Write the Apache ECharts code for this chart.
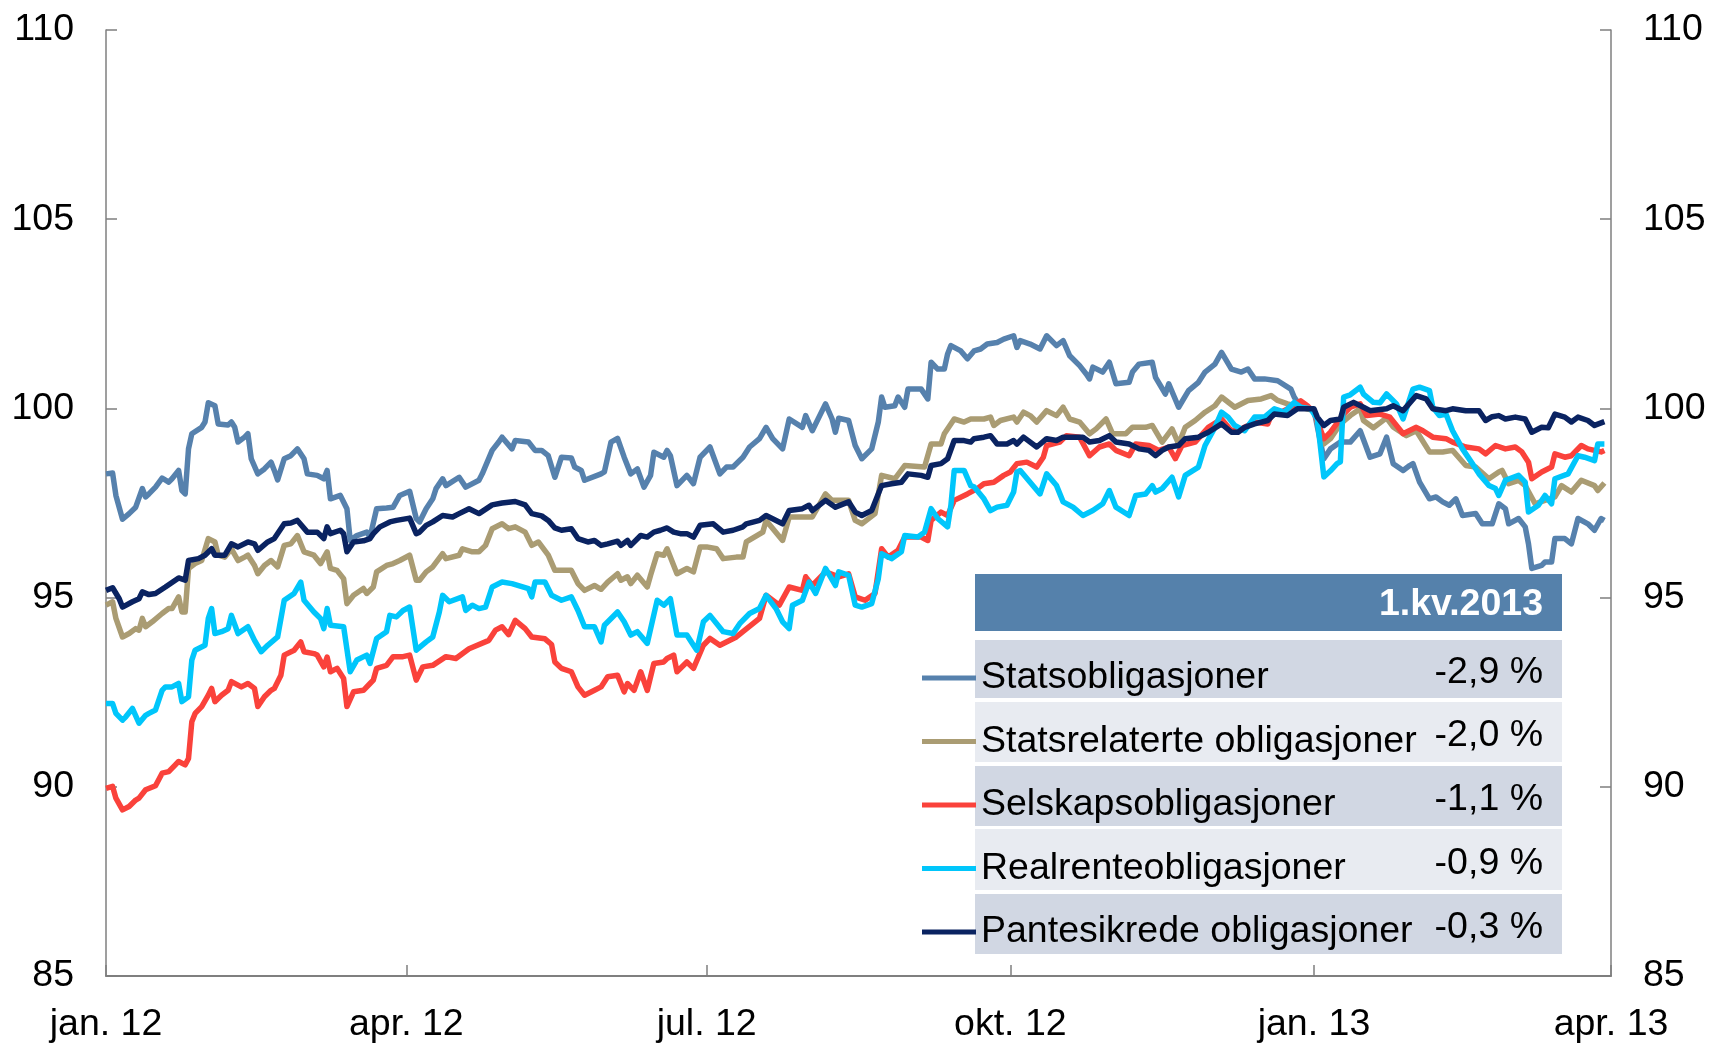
<!DOCTYPE html>
<html>
<head>
<meta charset="utf-8">
<script src="https://cdn.jsdelivr.net/npm/echarts@6/dist/echarts.min.js"></script>
<style>
  html, body { margin: 0; padding: 0; background: #fff; }
  #chart { width: 1710px; height: 1044px; }
</style>
</head>
<body>
<div id="chart"></div>
<script>
// index, 1.1.2012 .. 1.4.2013
var statsobligasjoner = [
  ['2012-01-01',98.27],['2012-01-03',98.29],['2012-01-04',97.70],['2012-01-06',97.07],['2012-01-08',97.22],['2012-01-10',97.39],
  ['2012-01-12',97.88],['2012-01-13',97.66],['2012-01-14',97.74],['2012-01-16',97.92],['2012-01-18',98.16],['2012-01-20',98.05],
  ['2012-01-21',98.14],['2012-01-23',98.36],['2012-01-24',97.83],['2012-01-25',97.74],['2012-01-26',98.93],['2012-01-27',99.33],
  ['2012-01-30',99.50],['2012-01-31',99.64],['2012-02-01',100.15],['2012-02-03',100.07],['2012-02-04',99.59],['2012-02-07',99.56],
  ['2012-02-08',99.64],['2012-02-09',99.50],['2012-02-10',99.11],['2012-02-12',99.24],['2012-02-13',99.33],['2012-02-14',98.67],
  ['2012-02-16',98.27],['2012-02-18',98.40],['2012-02-20',98.58],['2012-02-21',98.36],['2012-02-22',98.11],['2012-02-24',98.67],
  ['2012-02-26',98.75],['2012-02-28',98.93],['2012-03-01',98.67],['2012-03-02',98.27],['2012-03-05',98.23],['2012-03-07',98.14],
  ['2012-03-08',98.36],['2012-03-09',97.61],['2012-03-12',97.70],['2012-03-14',97.35],['2012-03-15',96.51],['2012-03-17',96.64],
  ['2012-03-20',96.73],['2012-03-21',96.60],['2012-03-23',97.35],['2012-03-26',97.37],['2012-03-28',97.39],['2012-03-30',97.70],
  ['2012-04-02',97.81],['2012-04-04',97.09],['2012-04-05',97.00],['2012-04-07',97.35],['2012-04-09',97.61],['2012-04-10',97.88],
  ['2012-04-12',98.14],['2012-04-13',97.96],['2012-04-17',98.18],['2012-04-19',97.92],['2012-04-23',98.10],['2012-04-24',98.27],
  ['2012-04-27',98.89],['2012-04-29',99.11],['2012-04-30',99.24],['2012-05-03',98.93],['2012-05-04',99.15],['2012-05-08',99.11],
  ['2012-05-10',98.89],['2012-05-12',98.89],['2012-05-14',98.75],['2012-05-16',98.18],['2012-05-18',98.71],['2012-05-21',98.69],
  ['2012-05-22',98.45],['2012-05-24',98.36],['2012-05-25',98.10],['2012-05-30',98.27],['2012-05-31',98.32],['2012-06-02',99.11],
  ['2012-06-04',99.21],['2012-06-06',98.71],['2012-06-08',98.27],['2012-06-10',98.40],['2012-06-12',97.92],['2012-06-14',98.23],
  ['2012-06-15',98.84],['2012-06-18',98.71],['2012-06-19',98.89],['2012-06-20',98.75],['2012-06-22',97.96],['2012-06-25',98.23],
  ['2012-06-27',98.01],['2012-06-29',98.71],['2012-07-02',98.98],['2012-07-05',98.27],['2012-07-07',98.45],['2012-07-09',98.45],
  ['2012-07-12',98.71],['2012-07-14',98.98],['2012-07-17',99.20],['2012-07-19',99.50],['2012-07-21',99.20],['2012-07-24',98.93],
  ['2012-07-26',99.72],['2012-07-30',99.50],['2012-07-31',99.81],['2012-08-02',99.41],['2012-08-06',100.12],['2012-08-08',99.72],
  ['2012-08-09',99.37],['2012-08-10',99.74],['2012-08-13',99.68],['2012-08-15',99.02],['2012-08-17',98.67],['2012-08-20',98.93],
  ['2012-08-22',99.64],['2012-08-23',100.30],['2012-08-24',100.03],['2012-08-27',100.07],['2012-08-28',100.30],['2012-08-30',100.03],
  ['2012-08-31',100.51],['2012-09-04',100.51],['2012-09-06',100.25],['2012-09-07',101.22],['2012-09-09',101.04],['2012-09-11',101.04],
  ['2012-09-12',101.44],['2012-09-13',101.66],['2012-09-16',101.52],['2012-09-18',101.31],['2012-09-20',101.52],['2012-09-22',101.57],
  ['2012-09-24',101.70],['2012-09-27',101.74],['2012-09-29',101.83],['2012-10-02',101.92],['2012-10-03',101.61],['2012-10-04',101.79],
  ['2012-10-07',101.70],['2012-10-10',101.57],['2012-10-12',101.92],['2012-10-15',101.66],['2012-10-17',101.79],['2012-10-19',101.39],
  ['2012-10-22',101.13],['2012-10-24',100.91],['2012-10-25',100.78],['2012-10-26',101.09],['2012-10-29',100.96],['2012-10-31',101.22],
  ['2012-11-02',100.65],['2012-11-06',100.69],['2012-11-07',100.96],['2012-11-09',101.17],['2012-11-13',101.22],['2012-11-14',100.82],
  ['2012-11-17',100.38],['2012-11-18',100.65],['2012-11-21',100.03],['2012-11-24',100.47],['2012-11-27',100.69],['2012-11-29',100.96],
  ['2012-12-02',101.17],['2012-12-04',101.48],['2012-12-07',101.04],['2012-12-10',100.96],['2012-12-12',101.04],['2012-12-14',100.78],
  ['2012-12-17',100.78],['2012-12-21',100.73],['2012-12-25',100.51],['2012-12-26',100.30],['2012-12-28',100.03],['2013-01-01',99.96],
  ['2013-01-04',98.67],['2013-01-06',98.93],['2013-01-09',99.11],['2013-01-12',99.11],['2013-01-15',99.41],['2013-01-18',98.71],
  ['2013-01-21',98.80],['2013-01-23',99.24],['2013-01-25',98.54],['2013-01-28',98.36],['2013-01-30',98.49],['2013-01-31',98.54],
  ['2013-02-02',98.05],['2013-02-05',97.61],['2013-02-07',97.66],['2013-02-09',97.53],['2013-02-11',97.44],['2013-02-13',97.61],
  ['2013-02-15',97.17],['2013-02-19',97.22],['2013-02-21',96.95],['2013-02-24',96.95],['2013-02-26',97.48],['2013-02-28',97.35],
  ['2013-03-01',96.95],['2013-03-04',97.09],['2013-03-06',96.87],['2013-03-07',96.42],['2013-03-08',95.77],['2013-03-11',95.85],
  ['2013-03-12',95.94],['2013-03-14',95.94],['2013-03-15',96.56],['2013-03-18',96.56],['2013-03-20',96.42],['2013-03-22',97.09],
  ['2013-03-25',96.95],['2013-03-27',96.78],['2013-03-29',97.09],['2013-03-30',97.04]
];

var statsrelaterte = [
  ['2012-01-01',94.80],['2012-01-03',94.89],['2012-01-04',94.45],['2012-01-06',93.96],['2012-01-08',94.05],['2012-01-10',94.18],
  ['2012-01-11',94.14],['2012-01-12',94.45],['2012-01-13',94.23],['2012-01-15',94.36],['2012-01-18',94.58],['2012-01-20',94.71],
  ['2012-01-21',94.71],['2012-01-23',95.02],['2012-01-24',94.62],['2012-01-25',94.62],['2012-01-26',95.77],['2012-01-28',95.90],
  ['2012-01-30',95.98],['2012-02-01',96.56],['2012-02-03',96.47],['2012-02-04',96.12],['2012-02-06',96.07],['2012-02-08',96.29],
  ['2012-02-10',95.98],['2012-02-12',96.07],['2012-02-13',96.12],['2012-02-15',95.85],['2012-02-16',95.63],['2012-02-18',95.85],
  ['2012-02-20',95.98],['2012-02-22',95.81],['2012-02-24',96.38],['2012-02-26',96.42],['2012-02-28',96.64],['2012-03-01',96.21],
  ['2012-03-04',96.12],['2012-03-06',95.90],['2012-03-08',96.21],['2012-03-09',95.77],['2012-03-11',95.72],['2012-03-13',95.50],
  ['2012-03-14',94.84],['2012-03-16',95.06],['2012-03-19',95.24],['2012-03-20',95.11],['2012-03-22',95.28],['2012-03-23',95.68],
  ['2012-03-26',95.85],['2012-03-28',95.90],['2012-03-30',95.98],['2012-04-02',96.12],['2012-04-04',95.46],['2012-04-05',95.46],
  ['2012-04-07',95.68],['2012-04-09',95.81],['2012-04-12',96.16],['2012-04-13',96.03],['2012-04-17',96.12],['2012-04-18',96.29],
  ['2012-04-21',96.21],['2012-04-23',96.21],['2012-04-25',96.38],['2012-04-27',96.82],['2012-04-30',96.95],['2012-05-02',96.82],
  ['2012-05-04',96.87],['2012-05-07',96.73],['2012-05-09',96.38],['2012-05-11',96.47],['2012-05-14',96.12],['2012-05-16',95.72],
  ['2012-05-18',95.72],['2012-05-21',95.72],['2012-05-23',95.37],['2012-05-25',95.19],['2012-05-28',95.32],['2012-05-30',95.22],
  ['2012-06-01',95.41],['2012-06-04',95.63],['2012-06-05',95.46],['2012-06-07',95.55],['2012-06-08',95.37],['2012-06-10',95.59],
  ['2012-06-13',95.28],['2012-06-14',95.59],['2012-06-16',96.16],['2012-06-18',96.12],['2012-06-19',96.29],['2012-06-22',95.63],
  ['2012-06-25',95.77],['2012-06-27',95.68],['2012-06-29',96.34],['2012-07-01',96.34],['2012-07-04',96.29],['2012-07-06',96.03],
  ['2012-07-10',96.07],['2012-07-12',96.07],['2012-07-13',96.47],['2012-07-18',96.73],['2012-07-19',97.04],['2012-07-24',96.51],
  ['2012-07-26',97.13],['2012-07-30',97.13],['2012-08-02',97.13],['2012-08-06',97.74],['2012-08-08',97.57],['2012-08-13',97.57],
  ['2012-08-15',97.04],['2012-08-17',96.95],['2012-08-21',97.22],['2012-08-23',98.23],['2012-08-27',98.14],['2012-08-30',98.49],
  ['2012-09-05',98.45],['2012-09-07',99.06],['2012-09-10',99.06],['2012-09-11',99.33],['2012-09-14',99.72],['2012-09-17',99.64],
  ['2012-09-19',99.72],['2012-09-23',99.72],['2012-09-25',99.77],['2012-09-26',99.55],['2012-09-28',99.68],['2012-10-02',99.77],
  ['2012-10-03',99.64],['2012-10-05',99.90],['2012-10-07',99.81],['2012-10-09',99.64],['2012-10-12',99.94],['2012-10-15',99.81],
  ['2012-10-17',100.03],['2012-10-19',99.72],['2012-10-22',99.64],['2012-10-25',99.33],['2012-10-27',99.46],['2012-10-30',99.72],
  ['2012-11-01',99.33],['2012-11-05',99.33],['2012-11-07',99.50],['2012-11-11',99.50],['2012-11-13',99.55],['2012-11-16',99.11],
  ['2012-11-19',99.46],['2012-11-21',99.06],['2012-11-23',99.50],['2012-11-26',99.68],['2012-11-29',99.90],['2012-12-02',100.07],
  ['2012-12-04',100.30],['2012-12-08',100.03],['2012-12-12',100.21],['2012-12-16',100.25],['2012-12-19',100.34],['2012-12-21',100.21],
  ['2012-12-24',100.12],['2012-12-28',100.03],['2013-01-01',99.94],['2013-01-04',99.06],['2013-01-06',99.20],['2013-01-09',99.59],
  ['2013-01-12',99.81],['2013-01-15',99.99],['2013-01-16',99.68],['2013-01-19',99.49],['2013-01-23',99.75],['2013-01-25',99.51],
  ['2013-01-29',99.28],['2013-02-01',99.41],['2013-02-05',98.85],['2013-02-09',98.85],['2013-02-12',98.89],['2013-02-16',98.49],
  ['2013-02-19',98.45],['2013-02-23',98.14],['2013-02-26',98.32],['2013-02-27',98.36],['2013-03-01',98.01],['2013-03-04',98.10],
  ['2013-03-06',97.96],['2013-03-09',97.48],['2013-03-12',97.57],['2013-03-15',97.66],['2013-03-17',97.96],['2013-03-20',97.79],
  ['2013-03-23',98.10],['2013-03-27',97.96],['2013-03-28',97.83],['2013-03-30',98.03]
];

var selskap = [
  ['2012-01-01',89.96],['2012-01-03',90.01],['2012-01-04',89.70],['2012-01-06',89.39],['2012-01-08',89.48],['2012-01-10',89.65],
  ['2012-01-11',89.70],['2012-01-13',89.92],['2012-01-16',90.03],['2012-01-18',90.36],['2012-01-20',90.40],['2012-01-22',90.58],
  ['2012-01-23',90.67],['2012-01-25',90.58],['2012-01-26',90.75],['2012-01-27',91.72],['2012-01-28',91.94],['2012-01-30',92.12],
  ['2012-02-01',92.42],['2012-02-02',92.60],['2012-02-03',92.25],['2012-02-05',92.42],['2012-02-07',92.55],['2012-02-08',92.78],
  ['2012-02-11',92.64],['2012-02-13',92.73],['2012-02-15',92.60],['2012-02-16',92.12],['2012-02-18',92.38],['2012-02-20',92.55],
  ['2012-02-21',92.60],['2012-02-23',92.95],['2012-02-24',93.48],['2012-02-27',93.61],['2012-02-29',93.83],['2012-03-01',93.57],
  ['2012-03-04',93.52],['2012-03-05',93.48],['2012-03-07',93.17],['2012-03-08',93.43],['2012-03-09',93.04],['2012-03-11',93.13],
  ['2012-03-13',92.86],['2012-03-14',92.12],['2012-03-16',92.51],['2012-03-19',92.55],['2012-03-21',92.73],['2012-03-22',92.82],
  ['2012-03-23',93.13],['2012-03-26',93.21],['2012-03-28',93.44],['2012-03-31',93.44],['2012-04-02',93.48],['2012-04-04',92.82],
  ['2012-04-06',93.17],['2012-04-09',93.21],['2012-04-13',93.44],['2012-04-16',93.39],['2012-04-20',93.65],['2012-04-26',93.87],
  ['2012-04-28',94.14],['2012-04-30',94.23],['2012-05-02',94.02],['2012-05-04',94.40],['2012-05-07',94.18],['2012-05-09',93.96],
  ['2012-05-13',93.91],['2012-05-15',93.76],['2012-05-16',93.30],['2012-05-18',93.13],['2012-05-21',93.04],['2012-05-23',92.64],
  ['2012-05-25',92.42],['2012-05-28',92.55],['2012-05-30',92.64],['2012-06-01',92.91],['2012-06-04',92.95],['2012-06-06',92.51],
  ['2012-06-07',92.73],['2012-06-09',92.55],['2012-06-11',93.04],['2012-06-13',92.55],['2012-06-15',93.26],['2012-06-18',93.30],
  ['2012-06-19',93.39],['2012-06-21',93.48],['2012-06-22',93.04],['2012-06-25',93.30],['2012-06-27',93.13],['2012-06-30',93.74],
  ['2012-07-02',93.92],['2012-07-05',93.74],['2012-07-10',93.96],['2012-07-17',94.45],['2012-07-19',95.06],['2012-07-23',94.80],
  ['2012-07-26',95.28],['2012-07-30',95.19],['2012-07-31',95.55],['2012-08-02',95.32],['2012-08-06',95.68],['2012-08-10',95.55],
  ['2012-08-13',95.63],['2012-08-15',95.02],['2012-08-18',94.93],['2012-08-21',95.11],['2012-08-23',96.29],['2012-08-25',96.07],
  ['2012-08-28',96.25],['2012-08-30',96.60],['2012-09-04',96.60],['2012-09-06',96.51],['2012-09-07',97.04],['2012-09-10',97.26],
  ['2012-09-12',97.17],['2012-09-14',97.57],['2012-09-18',97.74],['2012-09-21',97.88],['2012-09-23',98.01],['2012-09-26',98.05],
  ['2012-09-29',98.23],['2012-10-01',98.32],['2012-10-03',98.54],['2012-10-06',98.58],['2012-10-09',98.45],['2012-10-11',98.71],
  ['2012-10-12',99.02],['2012-10-16',99.11],['2012-10-18',99.28],['2012-10-22',99.24],['2012-10-25',98.75],['2012-10-28',98.98],
  ['2012-10-31',99.06],['2012-11-02',98.89],['2012-11-06',98.75],['2012-11-08',99.06],['2012-11-12',99.02],['2012-11-15',98.89],
  ['2012-11-18',98.98],['2012-11-20',98.67],['2012-11-22',99.02],['2012-11-26',99.11],['2012-11-30',99.50],['2012-12-04',99.72],
  ['2012-12-07',99.41],['2012-12-10',99.46],['2012-12-14',99.64],['2012-12-18',99.59],['2012-12-19',99.81],['2012-12-22',99.90],
  ['2012-12-25',100.03],['2012-12-28',100.20],['2012-12-30',100.07],['2013-01-01',99.90],['2013-01-04',99.20],['2013-01-06',99.37],
  ['2013-01-10',99.85],['2013-01-12',100.03],['2013-01-15',100.12],['2013-01-17',99.81],['2013-01-21',99.85],['2013-01-24',99.77],
  ['2013-01-28',99.33],['2013-02-01',99.50],['2013-02-03',99.41],['2013-02-06',99.24],['2013-02-10',99.20],['2013-02-12',99.11],
  ['2013-02-16',98.98],['2013-02-20',98.93],['2013-02-22',98.80],['2013-02-25',99.02],['2013-02-28',98.93],['2013-03-03',98.98],
  ['2013-03-05',98.85],['2013-03-07',98.58],['2013-03-08',98.14],['2013-03-11',98.32],['2013-03-14',98.45],['2013-03-15',98.80],
  ['2013-03-18',98.71],['2013-03-20',98.75],['2013-03-23',99.02],['2013-03-25',98.93],['2013-03-29',98.85],['2013-03-30',98.89]
];

var realrente = [
  ['2012-01-01',92.20],['2012-01-03',92.20],['2012-01-04',91.94],['2012-01-06',91.76],['2012-01-07',91.85],['2012-01-09',92.07],
  ['2012-01-11',91.68],['2012-01-13',91.89],['2012-01-14',91.94],['2012-01-16',92.03],['2012-01-18',92.55],['2012-01-19',92.64],
  ['2012-01-21',92.64],['2012-01-23',92.73],['2012-01-24',92.25],['2012-01-26',92.38],['2012-01-27',93.35],['2012-01-28',93.61],
  ['2012-01-31',93.74],['2012-02-01',94.45],['2012-02-02',94.71],['2012-02-03',94.05],['2012-02-05',94.10],['2012-02-07',94.18],
  ['2012-02-08',94.53],['2012-02-10',94.05],['2012-02-13',94.23],['2012-02-15',93.87],['2012-02-17',93.57],['2012-02-19',93.74],
  ['2012-02-22',93.96],['2012-02-24',94.93],['2012-02-27',95.11],['2012-02-29',95.41],['2012-03-01',94.93],['2012-03-04',94.62],
  ['2012-03-06',94.45],['2012-03-07',94.18],['2012-03-08',94.71],['2012-03-09',94.27],['2012-03-13',94.23],['2012-03-15',93.04],
  ['2012-03-17',93.35],['2012-03-20',93.48],['2012-03-21',93.26],['2012-03-23',93.92],['2012-03-26',94.10],['2012-03-27',94.53],
  ['2012-03-29',94.49],['2012-03-31',94.66],['2012-04-02',94.75],['2012-04-04',93.61],['2012-04-07',93.83],['2012-04-09',93.96],
  ['2012-04-11',94.62],['2012-04-12',95.06],['2012-04-14',94.89],['2012-04-18',95.02],['2012-04-19',94.66],['2012-04-21',94.80],
  ['2012-04-23',94.71],['2012-04-25',94.75],['2012-04-27',95.28],['2012-04-30',95.41],['2012-05-03',95.37],['2012-05-08',95.24],
  ['2012-05-09',95.02],['2012-05-10',95.41],['2012-05-13',95.41],['2012-05-15',95.06],['2012-05-18',94.93],['2012-05-21',95.02],
  ['2012-05-23',94.66],['2012-05-25',94.23],['2012-05-28',94.23],['2012-05-30',93.83],['2012-05-31',94.27],['2012-06-04',94.62],
  ['2012-06-06',94.36],['2012-06-08',94.01],['2012-06-10',94.10],['2012-06-13',93.79],['2012-06-16',94.93],['2012-06-18',94.80],
  ['2012-06-20',94.97],['2012-06-22',94.01],['2012-06-25',94.01],['2012-06-27',93.74],['2012-06-28',93.61],['2012-06-30',94.36],
  ['2012-07-02',94.53],['2012-07-06',94.10],['2012-07-09',94.05],['2012-07-11',94.31],['2012-07-14',94.58],['2012-07-17',94.71],
  ['2012-07-19',95.06],['2012-07-22',94.71],['2012-07-24',94.36],['2012-07-26',94.18],['2012-07-27',94.80],['2012-07-30',94.93],
  ['2012-08-01',95.41],['2012-08-03',95.11],['2012-08-06',95.77],['2012-08-09',95.32],['2012-08-10',95.68],['2012-08-13',95.59],
  ['2012-08-15',94.80],['2012-08-17',94.75],['2012-08-20',94.84],['2012-08-22',95.50],['2012-08-23',96.16],['2012-08-26',96.03],
  ['2012-08-29',96.21],['2012-08-30',96.64],['2012-09-03',96.60],['2012-09-05',96.73],['2012-09-07',97.35],['2012-09-09',97.09],
  ['2012-09-12',96.87],['2012-09-13',97.44],['2012-09-14',98.36],['2012-09-17',98.36],['2012-09-19',97.96],['2012-09-20',97.93],
  ['2012-09-23',97.61],['2012-09-25',97.30],['2012-09-27',97.39],['2012-09-30',97.44],['2012-10-02',97.79],['2012-10-03',98.32],
  ['2012-10-04',98.36],['2012-10-07',98.05],['2012-10-10',97.74],['2012-10-12',98.27],['2012-10-15',97.96],['2012-10-17',97.53],
  ['2012-10-20',97.39],['2012-10-23',97.17],['2012-10-26',97.30],['2012-10-29',97.48],['2012-10-31',97.83],['2012-11-02',97.39],
  ['2012-11-06',97.17],['2012-11-08',97.70],['2012-11-11',97.74],['2012-11-13',97.96],['2012-11-14',97.79],['2012-11-16',97.88],
  ['2012-11-19',98.18],['2012-11-21',97.66],['2012-11-23',98.23],['2012-11-27',98.45],['2012-11-29',99.02],['2012-12-02',99.50],
  ['2012-12-04',99.90],['2012-12-06',99.77],['2012-12-08',99.55],['2012-12-11',99.41],['2012-12-14',99.77],['2012-12-17',99.77],
  ['2012-12-20',99.99],['2012-12-23',99.90],['2012-12-26',100.16],['2012-12-28',100.03],['2012-12-31',99.99],['2013-01-02',99.72],
  ['2013-01-04',98.19],['2013-01-06',98.35],['2013-01-08',98.54],['2013-01-09',98.59],['2013-01-10',100.30],['2013-01-12',100.36],
  ['2013-01-15',100.56],['2013-01-16',100.38],['2013-01-19',100.16],['2013-01-21',100.15],['2013-01-23',100.38],['2013-01-26',100.12],
  ['2013-01-28',99.72],['2013-01-31',100.51],['2013-02-02',100.56],['2013-02-05',100.47],['2013-02-06',100.03],['2013-02-08',99.81],
  ['2013-02-10',99.85],['2013-02-12',99.41],['2013-02-15',98.93],['2013-02-18',98.54],['2013-02-20',98.27],['2013-02-23',97.96],
  ['2013-02-25',97.88],['2013-02-26',97.70],['2013-02-28',98.10],['2013-03-04',98.23],['2013-03-06',98.05],['2013-03-07',97.26],
  ['2013-03-10',97.44],['2013-03-12',97.70],['2013-03-14',97.48],['2013-03-15',98.14],['2013-03-19',98.27],['2013-03-22',98.75],
  ['2013-03-24',98.71],['2013-03-27',98.62],['2013-03-28',99.06],['2013-03-30',99.06]
];

var pantesikrede = [
  ['2012-01-01',95.19],['2012-01-03',95.26],['2012-01-05',94.97],['2012-01-06',94.75],['2012-01-09',94.89],['2012-01-11',94.97],
  ['2012-01-12',95.15],['2012-01-14',95.08],['2012-01-16',95.11],['2012-01-19',95.28],['2012-01-21',95.40],['2012-01-23',95.52],
  ['2012-01-25',95.46],['2012-01-26',95.98],['2012-01-29',96.03],['2012-01-31',96.12],['2012-02-02',96.29],['2012-02-03',96.12],
  ['2012-02-06',96.12],['2012-02-08',96.42],['2012-02-10',96.34],['2012-02-13',96.47],['2012-02-15',96.42],['2012-02-16',96.25],
  ['2012-02-19',96.47],['2012-02-21',96.56],['2012-02-24',96.95],['2012-02-26',96.97],['2012-02-28',97.04],['2012-03-02',96.73],
  ['2012-03-05',96.73],['2012-03-07',96.56],['2012-03-08',96.87],['2012-03-09',96.69],['2012-03-12',96.78],['2012-03-13',96.69],
  ['2012-03-14',96.21],['2012-03-16',96.47],['2012-03-19',96.50],['2012-03-21',96.56],['2012-03-22',96.69],['2012-03-24',96.87],
  ['2012-03-27',97.00],['2012-03-29',97.04],['2012-04-02',97.10],['2012-04-04',96.69],['2012-04-05',96.73],['2012-04-07',96.91],
  ['2012-04-09',97.00],['2012-04-12',97.17],['2012-04-15',97.13],['2012-04-17',97.22],['2012-04-20',97.35],['2012-04-23',97.22],
  ['2012-04-27',97.45],['2012-04-30',97.50],['2012-05-04',97.54],['2012-05-07',97.45],['2012-05-09',97.22],['2012-05-12',97.16],
  ['2012-05-14',97.04],['2012-05-16',96.84],['2012-05-18',96.78],['2012-05-21',96.82],['2012-05-23',96.56],['2012-05-26',96.47],
  ['2012-05-28',96.51],['2012-05-30',96.38],['2012-06-01',96.42],['2012-06-04',96.49],['2012-06-05',96.38],['2012-06-07',96.51],
  ['2012-06-08',96.38],['2012-06-11',96.64],['2012-06-13',96.60],['2012-06-15',96.73],['2012-06-17',96.78],['2012-06-19',96.84],
  ['2012-06-21',96.73],['2012-06-23',96.69],['2012-06-25',96.69],['2012-06-27',96.60],['2012-06-29',96.91],['2012-07-03',96.95],
  ['2012-07-06',96.73],['2012-07-09',96.78],['2012-07-12',96.87],['2012-07-13',96.95],['2012-07-17',97.04],['2012-07-19',97.17],
  ['2012-07-24',96.95],['2012-07-26',97.30],['2012-07-30',97.35],['2012-08-01',97.44],['2012-08-02',97.30],['2012-08-06',97.57],
  ['2012-08-09',97.39],['2012-08-13',97.53],['2012-08-15',97.26],['2012-08-17',97.17],['2012-08-20',97.30],['2012-08-23',97.96],
  ['2012-08-26',98.01],['2012-08-29',98.05],['2012-08-31',98.27],['2012-09-04',98.23],['2012-09-06',98.18],['2012-09-07',98.49],
  ['2012-09-10',98.54],['2012-09-12',98.67],['2012-09-14',99.15],['2012-09-17',99.15],['2012-09-19',99.11],['2012-09-20',99.20],
  ['2012-09-23',99.24],['2012-09-25',99.28],['2012-09-27',99.06],['2012-09-30',99.06],['2012-10-02',99.15],['2012-10-03',99.06],
  ['2012-10-05',99.24],['2012-10-09',98.98],['2012-10-12',99.20],['2012-10-15',99.15],['2012-10-17',99.24],['2012-10-23',99.24],
  ['2012-10-25',99.11],['2012-10-28',99.15],['2012-10-31',99.28],['2012-11-02',99.11],['2012-11-06',99.06],['2012-11-09',98.93],
  ['2012-11-12',98.89],['2012-11-14',98.75],['2012-11-16',98.89],['2012-11-18',98.98],['2012-11-21',99.02],['2012-11-23',99.20],
  ['2012-11-27',99.24],['2012-11-30',99.37],['2012-12-04',99.59],['2012-12-07',99.37],['2012-12-09',99.37],['2012-12-11',99.50],
  ['2012-12-14',99.59],['2012-12-18',99.68],['2012-12-20',99.85],['2012-12-24',99.81],['2012-12-27',99.99],['2013-01-01',99.99],
  ['2013-01-02',99.77],['2013-01-04',99.55],['2013-01-06',99.68],['2013-01-09',99.72],['2013-01-10',100.03],['2013-01-13',100.16],
  ['2013-01-16',100.03],['2013-01-18',99.94],['2013-01-23',99.99],['2013-01-25',100.07],['2013-01-28',99.94],['2013-02-01',100.34],
  ['2013-02-04',100.25],['2013-02-06',99.99],['2013-02-10',99.94],['2013-02-12',99.99],['2013-02-16',99.94],['2013-02-20',99.94],
  ['2013-02-22',99.68],['2013-02-24',99.78],['2013-02-26',99.81],['2013-02-28',99.72],['2013-03-03',99.77],['2013-03-06',99.72],
  ['2013-03-08',99.37],['2013-03-11',99.50],['2013-03-13',99.49],['2013-03-15',99.85],['2013-03-18',99.77],['2013-03-20',99.64],
  ['2013-03-22',99.77],['2013-03-25',99.68],['2013-03-27',99.55],['2013-03-30',99.65]
];

var seriesNames = ['Statsobligasjoner', 'Statsrelaterte obligasjoner', 'Selskapsobligasjoner', 'Realrenteobligasjoner', 'Pantesikrede obligasjoner'];
var seriesColors = ['#5681ad', '#aa9c73', '#fa423b', '#00c6fb', '#0a2361'];
var changeQ1 = ['-2,9 %', '-2,0 %', '-1,1 %', '-0,9 %', '-0,3 %'];
var tableHeader = '1.kv.2013';
var xTicks = ['2012-01-01', '2012-04-01', '2012-07-01', '2012-10-01', '2013-01-01', '2013-04-01'];
var monthNames = ['jan.', 'feb.', 'mar.', 'apr.', 'mai', 'jun.', 'jul.', 'aug.', 'sep.', 'okt.', 'nov.', 'des.'];

var FONT = "'Liberation Sans', Arial, sans-serif";
var FS = 37.5;
var chart = echarts.init(document.getElementById('chart'), null, { renderer: 'canvas' });

function toTime(d) {
    return echarts.time.parse(d).getTime();
}
var tickTimes = xTicks.map(toTime);

function yAxisOpt(pos) {
    return {
        type: 'value',
        position: pos,
        min: 85,
        max: 110,
        interval: 5,
        axisLine: { show: true, lineStyle: { color: '#7f7f7f', width: 1.5 } },
        axisTick: { show: true, inside: true, length: 11, lineStyle: { color: '#7f7f7f', width: 1.5 } },
        splitLine: { show: false },
        axisLabel: { fontSize: FS, color: '#000', fontFamily: FONT, margin: 32 }
    };
}

// table rows below the header
var rowTop = [640, 702, 766, 829, 894];
var rowH = [58, 60, 60, 61, 60];
var rowFill = ['#d1d7e3', '#e8ebf1', '#d1d7e3', '#e8ebf1', '#d1d7e3'];
var tableLeft = 975, tableW = 587;

var graphics = [{
    type: 'rect', z: 3,
    shape: { x: tableLeft, y: 574, width: tableW, height: 57 },
    style: { fill: '#5581ab' }
}, {
    type: 'text', z: 5, x: 1543, y: 605,
    style: { text: tableHeader, fill: '#fff', font: 'bold ' + FS + 'px ' + FONT, align: 'right', verticalAlign: 'middle' }
}];
rowTop.forEach(function (t, i) {
    graphics.push({
        type: 'rect', z: 3,
        shape: { x: tableLeft, y: t, width: tableW, height: rowH[i] },
        style: { fill: rowFill[i] }
    });
    graphics.push({
        type: 'text', z: 5, x: 1543, y: t + rowH[i] / 2 + 4,
        style: { text: changeQ1[i], fill: '#000', font: FS + 'px ' + FONT, align: 'right', verticalAlign: 'middle' }
    });
});

var allData = [statsobligasjoner, statsrelaterte, selskap, realrente, pantesikrede];

chart.setOption({
    backgroundColor: '#fff',
    animation: false,
    grid: { left: 106, right: 99, top: 30, bottom: 66, containLabel: false },
    legend: {
        orient: 'vertical',
        left: 917,
        top: 653,
        itemWidth: 54,
        itemHeight: 5,
        itemGap: 23.5,
        icon: 'rect',
        z: 6,
        data: seriesNames,
        textStyle: { fontSize: FS, color: '#000', fontFamily: FONT, lineHeight: 40 }
    },
    xAxis: {
        type: 'value',
        min: tickTimes[0],
        max: tickTimes[tickTimes.length - 1],
        axisLine: { show: true, lineStyle: { color: '#7f7f7f', width: 2 } },
        axisTick: { show: true, inside: true, length: 11, customValues: tickTimes, lineStyle: { color: '#7f7f7f', width: 1.5 } },
        splitLine: { show: false },
        axisLabel: {
            customValues: tickTimes,
            showMinLabel: true,
            showMaxLabel: true,
            fontSize: FS,
            color: '#000',
            fontFamily: FONT,
            margin: 30,
            formatter: function (v) {
                var d = new Date(v);
                var yy = String(d.getFullYear()).slice(2);
                return monthNames[d.getMonth()] + ' ' + yy;
            }
        }
    },
    yAxis: [yAxisOpt('left'), yAxisOpt('right')],
    graphic: graphics,
    series: allData.map(function (data, i) {
        return {
            name: seriesNames[i],
            type: 'line',
            yAxisIndex: 0,
            data: data.map(function (p) { return [toTime(p[0]), p[1]]; }),
            showSymbol: false,
            symbol: 'none',
            smooth: false,
            z: 2,
            color: seriesColors[i],
            lineStyle: { color: seriesColors[i], width: 5.5, join: 'round' }
        };
    })
});
</script>
</body>
</html>
